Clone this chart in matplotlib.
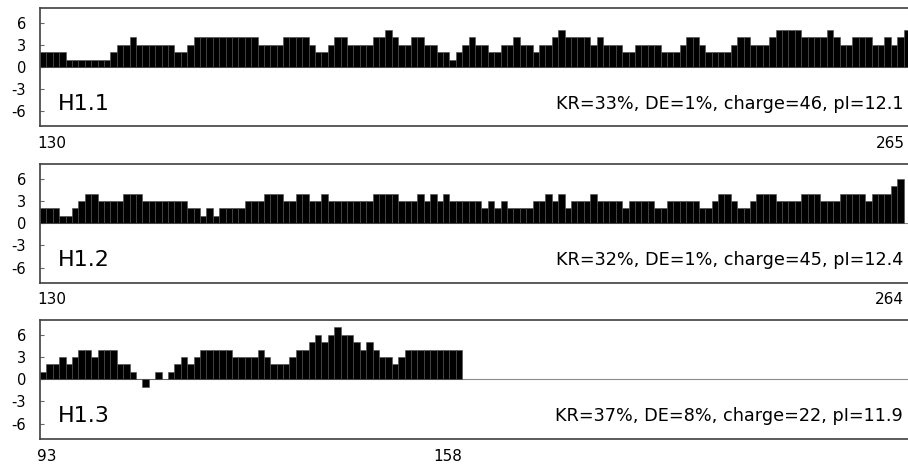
import matplotlib
matplotlib.use("Agg")
import matplotlib.pyplot as plt
import matplotlib.transforms as mtransforms

# ---------- DATA ----------
# net charge per residue window for each histone H1 tail
names = ["H1.1", "H1.2", "H1.3"]
starts = [130, 130, 93]
ends = [265, 264, 158]
stats = [
    "KR=33%, DE=1%, charge=46, pI=12.1",
    "KR=32%, DE=1%, charge=45, pI=12.4",
    "KR=37%, DE=8%, charge=22, pI=11.9",
]

charge_h11 = [
    2, 2, 2, 2, 1, 1, 1, 1, 1, 1,   # 130
    1, 2, 3, 3, 4, 3, 3, 3, 3, 3,   # 140
    3, 2, 2, 3, 4, 4, 4, 4, 4, 4,   # 150
    4, 4, 4, 4, 3, 3, 3, 3, 4, 4,   # 160
    4, 4, 3, 2, 2, 3, 4, 4, 3, 3,   # 170
    3, 3, 4, 4, 5, 4, 3, 3, 4, 4,   # 180
    3, 3, 2, 2, 1, 2, 3, 4, 3, 3,   # 190
    2, 2, 3, 3, 4, 3, 3, 2, 3, 3,   # 200
    4, 5, 4, 4, 4, 4, 3, 4, 3, 3,   # 210
    3, 2, 2, 3, 3, 3, 3, 2, 2, 2,   # 220
    3, 4, 4, 3, 2, 2, 2, 2, 3, 4,   # 230
    4, 3, 3, 3, 4, 5, 5, 5, 5, 4,   # 240
    4, 4, 4, 5, 4, 3, 3, 4, 4, 4,   # 250
    3, 3, 4, 3, 4, 5,               # 260
]

charge_h12 = [
    2, 2, 2, 1, 1, 2, 3, 4, 4, 3,   # 130
    3, 3, 3, 4, 4, 4, 3, 3, 3, 3,   # 140
    3, 3, 3, 2, 2, 1, 2, 1, 2, 2,   # 150
    2, 2, 3, 3, 3, 4, 4, 4, 3, 3,   # 160
    4, 4, 3, 3, 4, 3, 3, 3, 3, 3,   # 170
    3, 3, 4, 4, 4, 4, 3, 3, 3, 4,   # 180
    3, 4, 3, 4, 3, 3, 3, 3, 3, 2,   # 190
    3, 2, 3, 2, 2, 2, 2, 3, 3, 4,   # 200
    3, 4, 2, 3, 3, 3, 4, 3, 3, 3,   # 210
    3, 2, 3, 3, 3, 3, 2, 2, 3, 3,   # 220
    3, 3, 3, 2, 2, 3, 4, 4, 3, 2,   # 230
    2, 3, 4, 4, 4, 3, 3, 3, 3, 4,   # 240
    4, 4, 3, 3, 3, 4, 4, 4, 4, 3,   # 250
    4, 4, 4, 5, 6,                  # 260
]

charge_h13 = [
    1, 2, 2, 3, 2, 3, 4, 4, 3, 4,     # 93
    4, 4, 2, 2, 1, 0, -1, 0, 1, 0,    # 103
    1, 2, 3, 2, 3, 4, 4, 4, 4, 4,     # 113
    3, 3, 3, 3, 4, 3, 2, 2, 2, 3,     # 123
    4, 4, 5, 6, 5, 6, 7, 6, 6, 5,     # 133
    4, 5, 4, 3, 3, 2, 3, 4, 4, 4,     # 143
    4, 4, 4, 4, 4, 4,                 # 153
]

charges = [charge_h11, charge_h12, charge_h13]

# ---------- STYLE ----------
plt.rcParams["font.family"] = "DejaVu Sans"
plt.rcParams["axes.unicode_minus"] = False

FIG_W, FIG_H = 908, 465
SPAN = 136           # residues per row, so every row shares one x scale
PANEL_TOPS = [7.7, 164, 320]
PANEL_H = 118.5


def draw_panel(ax, start, end, values, name, stat):
    """Draw one charge track as black bars, one bar per residue."""
    positions = list(range(start, end + 1))
    ax.bar(positions, values, width=1.0, align="edge", color="black",
           edgecolor="0.3", linewidth=0.4, zorder=2)
    ax.axhline(0, color="0.55", linewidth=0.8, zorder=1)

    ax.set_xlim(start, start + SPAN)
    ax.set_ylim(-8, 8)
    ax.set_yticks([-6, -3, 0, 3, 6])
    ax.set_xticks([])
    ax.tick_params(axis="y", direction="in", length=3, pad=10,
                   labelsize=10.5, color="0.4")
    for spine in ax.spines.values():
        spine.set_color("0.25")
        spine.set_linewidth(1.2)

    # name on the left, composition summary on the right
    ax.text(0.02, 0.19, name, transform=ax.transAxes, fontsize=16, va="center")
    ax.text(0.992, 0.19, stat, transform=ax.transAxes, fontsize=12.7,
            ha="right", va="center")

    # first and last residue numbers under the track
    trans = mtransforms.blended_transform_factory(ax.transData, ax.transAxes)
    ax.annotate(str(start), xy=(start, 0), xycoords=trans,
                xytext=(-2.2, -7.2), textcoords="offset points",
                ha="left", va="top", fontsize=11)
    ax.annotate(str(end), xy=(min(end + 1, start + SPAN - 0.8), 0), xycoords=trans,
                xytext=(0, -7.2), textcoords="offset points",
                ha="right", va="top", fontsize=11)


fig = plt.figure(figsize=(FIG_W / 100, FIG_H / 100), dpi=100)

for i in range(3):
    top = PANEL_TOPS[i]
    ax = fig.add_axes([40 / FIG_W, 1 - (top + PANEL_H) / FIG_H,
                       870 / FIG_W, PANEL_H / FIG_H])
    draw_panel(ax, starts[i], ends[i], charges[i], names[i], stats[i])

fig.savefig("out.png", dpi=100)
